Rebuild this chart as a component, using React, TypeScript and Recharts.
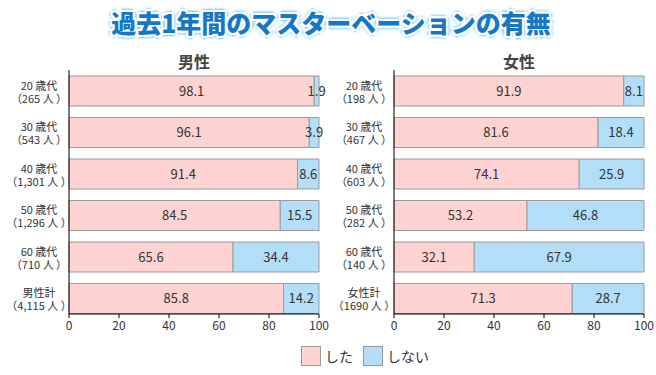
import React from 'react';
import { BarChart, Bar, XAxis, YAxis, LabelList } from 'recharts';

const ageLabelsMale = ['20 歳代', '30 歳代', '40 歳代', '50 歳代', '60 歳代', '男性計'];
const countLabelsMale = ['（265 人 ）', '（543 人 ）', '（1,301 人 ）', '（1,296 人 ）', '（710 人 ）', '（4,115 人 ）'];
const didMale = [98.1, 96.1, 91.4, 84.5, 65.6, 85.8];
const didNotMale = [1.9, 3.9, 8.6, 15.5, 34.4, 14.2];

const ageLabelsFemale = ['20 歳代', '30 歳代', '40 歳代', '50 歳代', '60 歳代', '女性計'];
const countLabelsFemale = ['（198 人 ）', '（467 人 ）', '（603 人 ）', '（282 人 ）', '（140 人 ）', '（1690 人 ）'];
const didFemale = [91.9, 81.6, 74.1, 53.2, 32.1, 71.3];
const didNotFemale = [8.1, 18.4, 25.9, 46.8, 67.9, 28.7];

const xTicks = [0, 20, 40, 60, 80, 100];

const FONT = '"Noto Sans CJK JP", "Noto Sans", sans-serif';
const PINK = '#ffd3d1';
const BLUE = '#b3def7';
const BORDER = '#9a9a9a';
const TEXT = '#333';

const buildRows = (ages: string[], counts: string[], did: number[], didNot: number[]) =>
  ages.map((age, i) => ({ name: age, count: counts[i], did: did[i], didNot: didNot[i] }));

// two-line category label: age group + sample size
const AgeTick = (props: any) => {
  const { x, y, payload, rows } = props;
  const row = rows[payload.index] ?? { count: '' };
  return (
    <g>
      <text x={x - 30} y={y - 1} textAnchor="middle" fontSize={11} fill={TEXT} fontFamily={FONT}>
        {payload.value}
      </text>
      <text x={x - 30} y={y + 12} textAnchor="middle" fontSize={11} fill={TEXT} fontFamily={FONT}>
        {row.count}
      </text>
    </g>
  );
};

const GenderChart = ({ rows, left, title }: { rows: any[]; left: number; title: string }) => (
  <div style={{ position: 'absolute', left, top: 0 }}>
    <div
      style={{
        position: 'absolute',
        left: 69,
        width: 250,
        top: 50,
        textAlign: 'center',
        fontSize: 16,
        fontWeight: 700,
        color: '#444',
        fontFamily: FONT,
        lineHeight: '22px',
      }}
    >
      {title}
    </div>
    <BarChart
      width={330}
      height={345}
      data={rows}
      layout="vertical"
      margin={{ top: 70, right: 11, bottom: 1, left: 0 }}
      barSize={30}
    >
      <XAxis
        type="number"
        domain={[0, 100]}
        ticks={xTicks}
        height={30}
        tick={{ fill: TEXT, fontSize: 12, fontFamily: FONT }}
        tickSize={4}
        tickMargin={3}
        tickLine={{ stroke: '#000' }}
        axisLine={{ stroke: '#000' }}
        interval={0}
      />
      <YAxis
        type="category"
        dataKey="name"
        width={69}
        tickLine={false}
        tickSize={0}
        tickMargin={0}
        axisLine={{ stroke: '#000' }}
        padding={{ top: 0, bottom: -5 }}
        tick={<AgeTick rows={rows} />}
        interval={0}
      />
      <Bar dataKey="did" stackId="a" fill={PINK} stroke={BORDER} strokeWidth={1} isAnimationActive={false}>
        <LabelList dataKey="did" position="center" fill={TEXT} fontSize={13} fontFamily={FONT} />
      </Bar>
      <Bar dataKey="didNot" stackId="a" fill={BLUE} stroke={BORDER} strokeWidth={1} isAnimationActive={false}>
        <LabelList dataKey="didNot" position="center" fill={TEXT} fontSize={13} fontFamily={FONT} />
      </Bar>
    </BarChart>
  </div>
);

export default function App() {
  const maleRows = buildRows(ageLabelsMale, countLabelsMale, didMale, didNotMale);
  const femaleRows = buildRows(ageLabelsFemale, countLabelsFemale, didFemale, didNotFemale);

  return (
    <div style={{ position: 'absolute', left: 0, top: 0, width: 656, height: 375, background: '#fff', fontFamily: FONT }}>
      <div
        style={{
          position: 'absolute',
          left: 0,
          width: 662,
          top: 6,
          textAlign: 'center',
          fontSize: 25,
          fontWeight: 900,
          color: '#1478c6',
          lineHeight: '32px',
          textShadow:
            '-2px 0 #fff, 2px 0 #fff, 0 -2px #fff, 0 2px #fff, -2px -2px #fff, 2px 2px #fff, -2px 2px #fff, 2px -2px #fff, ' +
            '-3px 0 2px #7cc8f4, 3px 0 2px #7cc8f4, 0 -3px 2px #7cc8f4, 0 3px 2px #7cc8f4, 0 0 6px #7cc8f4',
        }}
      >
        過去1年間のマスターベーションの有無
      </div>
      <GenderChart rows={maleRows} left={0} title="男性" />
      <GenderChart rows={femaleRows} left={325} title="女性" />
      <div style={{ position: 'absolute', left: 301, top: 346, display: 'flex', alignItems: 'center', fontSize: 14, color: TEXT }}>
        <span style={{ width: 18, height: 18, background: PINK, border: `1px solid ${BORDER}`, display: 'inline-block' }} />
        <span style={{ marginLeft: 4, marginRight: 10 }}>した</span>
        <span style={{ width: 18, height: 18, background: BLUE, border: `1px solid ${BORDER}`, display: 'inline-block' }} />
        <span style={{ marginLeft: 4 }}>しない</span>
      </div>
    </div>
  );
}
